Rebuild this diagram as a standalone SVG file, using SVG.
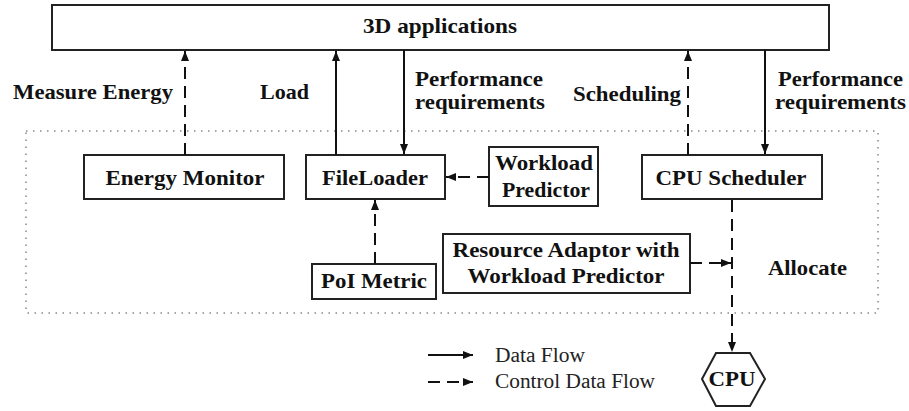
<svg xmlns="http://www.w3.org/2000/svg" width="909" height="411" viewBox="0 0 909 411">
  <style>
    .box { fill: #fff; stroke: #222; stroke-width: 2; }
    .lbl { font-family: 'Liberation Serif', serif; font-weight: bold; font-size: 21px; fill: #111; }
    .leg { font-family: 'Liberation Serif', serif; font-size: 20px; fill: #222; }
    .flow { stroke: #111; stroke-width: 2; fill: none; }
    .ctrl { stroke: #111; stroke-width: 2; fill: none; stroke-dasharray: 12 7; }
    .group { fill: none; stroke: #888; stroke-width: 1.5; stroke-dasharray: 1.5 5.5; }
  </style>
  <defs>
    <marker id="head" viewBox="0 0 10 8" refX="10" refY="4" markerWidth="10" markerHeight="8" markerUnits="userSpaceOnUse" orient="auto">
      <path d="M0,0 L10,4 L0,8 z" fill="#111"/>
    </marker>
  </defs>

  <rect width="909" height="411" fill="#fff"/>

  <!-- system boundary -->
  <rect class="group" x="26" y="131" width="852" height="182"/>

  <g id="apps">
    <rect class="box" x="52" y="5" width="777" height="45"/>
    <text class="lbl" x="440" y="33" text-anchor="middle" textLength="154" lengthAdjust="spacingAndGlyphs">3D applications</text>
  </g>

  <g id="energy-monitor">
    <rect class="box" x="84" y="155" width="200" height="44"/>
    <text class="lbl" x="185" y="185" text-anchor="middle" textLength="159" lengthAdjust="spacingAndGlyphs">Energy Monitor</text>
  </g>

  <g id="file-loader">
    <rect class="box" x="306" y="155" width="139" height="44"/>
    <text class="lbl" x="375" y="185" text-anchor="middle" textLength="106" lengthAdjust="spacingAndGlyphs">FileLoader</text>
  </g>

  <g id="workload-predictor">
    <rect class="box" x="489" y="147" width="109" height="59"/>
    <text class="lbl" x="544" y="170" text-anchor="middle" textLength="98" lengthAdjust="spacingAndGlyphs">Workload</text>
    <text class="lbl" x="546" y="197" text-anchor="middle" textLength="88" lengthAdjust="spacingAndGlyphs">Predictor</text>
  </g>

  <g id="cpu-scheduler">
    <rect class="box" x="642" y="155" width="180" height="44"/>
    <text class="lbl" x="731" y="185" text-anchor="middle" textLength="151" lengthAdjust="spacingAndGlyphs">CPU Scheduler</text>
  </g>

  <g id="resource-adaptor">
    <rect class="box" x="443" y="234" width="247" height="59"/>
    <text class="lbl" x="566" y="257" text-anchor="middle" textLength="227" lengthAdjust="spacingAndGlyphs">Resource Adaptor with</text>
    <text class="lbl" x="566" y="283" text-anchor="middle" textLength="197" lengthAdjust="spacingAndGlyphs">Workload Predictor</text>
  </g>

  <g id="poi-metric">
    <rect class="box" x="312" y="264" width="124" height="35"/>
    <text class="lbl" x="374" y="288" text-anchor="middle" textLength="106" lengthAdjust="spacingAndGlyphs">PoI Metric</text>
  </g>

  <g id="cpu">
    <polygon class="box" points="716,353 750,353 765,379 750,406 716,406 702,379"/>
    <text class="lbl" x="732" y="386" text-anchor="middle" textLength="47" lengthAdjust="spacingAndGlyphs">CPU</text>
  </g>

  <g id="connectors">
    <line class="ctrl" x1="185" y1="155" x2="185" y2="51" marker-end="url(#head)"/>
    <line class="flow" x1="336" y1="155" x2="336" y2="51" marker-end="url(#head)"/>
    <line class="flow" x1="404" y1="50" x2="404" y2="154" marker-end="url(#head)"/>
    <line class="ctrl" x1="688" y1="155" x2="688" y2="51" marker-end="url(#head)"/>
    <line class="flow" x1="765" y1="50" x2="765" y2="154" marker-end="url(#head)"/>
    <line class="ctrl" x1="489" y1="177" x2="446" y2="177" marker-end="url(#head)"/>
    <line class="ctrl" x1="375" y1="264" x2="375" y2="200" marker-end="url(#head)"/>
    <line class="ctrl" x1="732" y1="200" x2="732" y2="352" marker-end="url(#head)"/>
    <line class="ctrl" x1="690" y1="263" x2="731" y2="263" marker-end="url(#head)"/>
  </g>

  <g id="connector-labels">
    <text class="lbl" x="13" y="99" textLength="160" lengthAdjust="spacingAndGlyphs">Measure Energy</text>
    <text class="lbl" x="260" y="99" textLength="49" lengthAdjust="spacingAndGlyphs">Load</text>
    <text class="lbl" x="415" y="86" textLength="128" lengthAdjust="spacingAndGlyphs">Performance</text>
    <text class="lbl" x="415" y="109" textLength="130" lengthAdjust="spacingAndGlyphs">requirements</text>
    <text class="lbl" x="573" y="101" textLength="108" lengthAdjust="spacingAndGlyphs">Scheduling</text>
    <text class="lbl" x="778" y="86" textLength="125" lengthAdjust="spacingAndGlyphs">Performance</text>
    <text class="lbl" x="775" y="109" textLength="131" lengthAdjust="spacingAndGlyphs">requirements</text>
    <text class="lbl" x="768" y="275" textLength="79" lengthAdjust="spacingAndGlyphs">Allocate</text>
  </g>

  <g id="legend">
    <line class="flow" x1="428" y1="355" x2="473" y2="355" marker-end="url(#head)"/>
    <line class="ctrl" x1="428" y1="382" x2="473" y2="382" stroke-dasharray="17 10" marker-end="url(#head)"/>
    <text class="leg" x="495" y="362" textLength="90" lengthAdjust="spacingAndGlyphs">Data Flow</text>
    <text class="leg" x="495" y="388" textLength="160" lengthAdjust="spacingAndGlyphs">Control Data Flow</text>
  </g>
</svg>
